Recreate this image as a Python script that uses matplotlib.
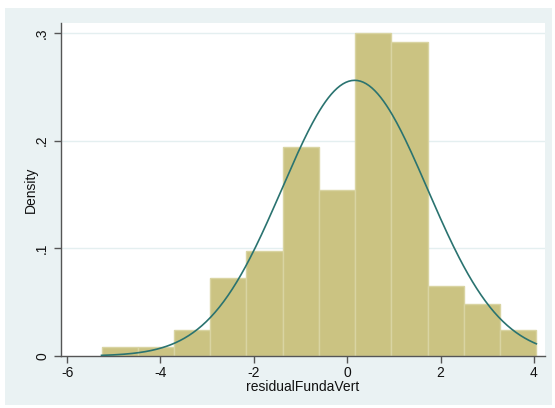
import numpy as np
import matplotlib.pyplot as plt
from matplotlib.patches import Rectangle

plt.rcParams['font.family'] = ['Liberation Sans', 'DejaVu Sans']

# histogram of residuals (density scale)
bin_start = -5.262
bin_width = 0.776
densities = [0.0081, 0.0081, 0.0243, 0.0729, 0.0972, 0.1944,
             0.1539, 0.2997, 0.2916, 0.0648, 0.0486, 0.0243]

# normal overlay
mu = 0.16
sigma = 1.558

xticks = [-6, -4, -2, 0, 2, 4]
yticks = [0, 0.1, 0.2, 0.3]
ytick_labels = ['0', '.1', '.2', '.3']

W, H = 555, 408
fig = plt.figure(figsize=(W / 100, H / 100), dpi=100, facecolor='white')
fig.patches.append(Rectangle((5 / W, 3 / H), 547 / W, 397 / H,
                             transform=fig.transFigure, facecolor='#eaf2f3',
                             edgecolor='none', zorder=-1))

ax = fig.add_axes([61 / W, (H - 356) / H, 484 / W, 333 / H])
ax.set_facecolor('white')

edges = bin_start + bin_width * np.arange(len(densities) + 1)
ax.bar(edges[:-1], densities, width=bin_width, align='edge',
       color='#cbc382', edgecolor='#d9d4a2', linewidth=1.0, zorder=2)

xs = np.linspace(edges[0], edges[-1], 300)
pdf = np.exp(-0.5 * ((xs - mu) / sigma) ** 2) / (sigma * np.sqrt(2 * np.pi))
ax.plot(xs, pdf, color='#2a7370', linewidth=1.2, zorder=3)

ax.set_xlim(-6.13, 4.236)
ax.set_ylim(0, 0.3093)
ax.set_xticks(xticks)
ax.set_xticklabels([str(t) for t in xticks])
ax.set_yticks(yticks)
ax.set_yticklabels(ytick_labels, rotation=90, va='center')

for y in yticks[1:]:
    ax.axhline(y, color='#e4eff0', linewidth=1.0, zorder=1)

for s in ['top', 'right']:
    ax.spines[s].set_visible(False)
for s in ['left', 'bottom']:
    ax.spines[s].set_color('#555555')
    ax.spines[s].set_linewidth(1.0)

ax.tick_params(axis='both', direction='out', length=5, width=1.0,
               color='#555555', labelsize=10, labelcolor='#111111')
ax.tick_params(axis='x', pad=2)
ax.set_xlabel('residualFundaVert', fontsize=10, labelpad=0, color='#111111')
ax.set_ylabel('Density', fontsize=10, labelpad=-2, color='#111111')

fig.savefig('out.png', dpi=100, facecolor=fig.get_facecolor())
